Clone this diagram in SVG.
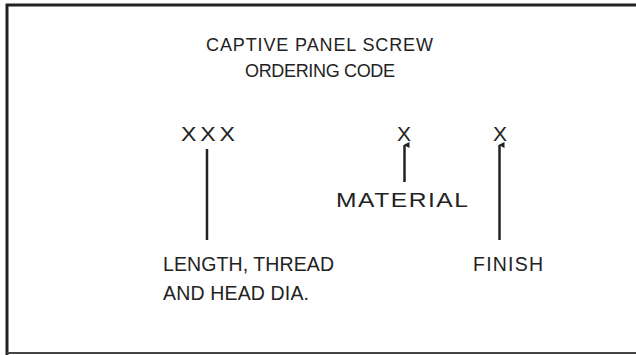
<svg xmlns="http://www.w3.org/2000/svg" width="636" height="355" viewBox="0 0 636 355">
<style>
text{font-family:"Liberation Sans",Arial,sans-serif;font-size:19.5px;fill:#222}
.t{font-size:18px}
.b{font-size:21px}
.ln{stroke:#222;stroke-width:2.5;fill:none}
</style>
<defs>
<marker id="ah" viewBox="0 0 6 6" refX="3" refY="1" markerWidth="2.4" markerHeight="2.4" orient="auto-start-reverse" markerUnits="strokeWidth">
<path d="M0,6 L3,0 L6,6 Z" fill="#222"/>
</marker>
</defs>
<rect x="0" y="0" width="636" height="355" fill="#fff"/>
<path d="M7,355 V5 H636" stroke="#222" stroke-width="3" fill="none"/>
<path d="M7,353 H636" stroke="#444" stroke-width="2" fill="none"/>
<g id="title"><text class="t" x="206" y="51" textLength="227" lengthAdjust="spacing">CAPTIVE PANEL SCREW</text><text class="t" x="245" y="77" textLength="150" lengthAdjust="spacing">ORDERING CODE</text></g>
<g id="code-xxx"><text class="b" transform="translate(181,141) scale(1.1,1)" x="0" y="0" textLength="49" lengthAdjust="spacing">XXX</text></g>
<g id="code-x1"><text class="b" x="397" y="141">X</text></g>
<g id="code-x2"><text class="b" x="493" y="141">X</text></g>
<g id="label-length"><text x="163" y="271" textLength="171" lengthAdjust="spacing">LENGTH, THREAD</text><text x="163" y="300" textLength="146" lengthAdjust="spacing">AND HEAD DIA.</text></g>
<g id="label-material"><text transform="translate(336,207) scale(1.2,1)" x="0" y="0" style="font-size:20.5px" textLength="110" lengthAdjust="spacing">MATERIAL</text></g>
<g id="label-finish"><text x="473" y="271" textLength="70" lengthAdjust="spacing">FINISH</text></g>
<g id="connectors">
<path class="ln" d="M207,240 V149"/>
<path class="ln" d="M404.5,182 V145" marker-end="url(#ah)"/>
<path class="ln" d="M499.5,240 V145" marker-end="url(#ah)"/>
</g>
</svg>
